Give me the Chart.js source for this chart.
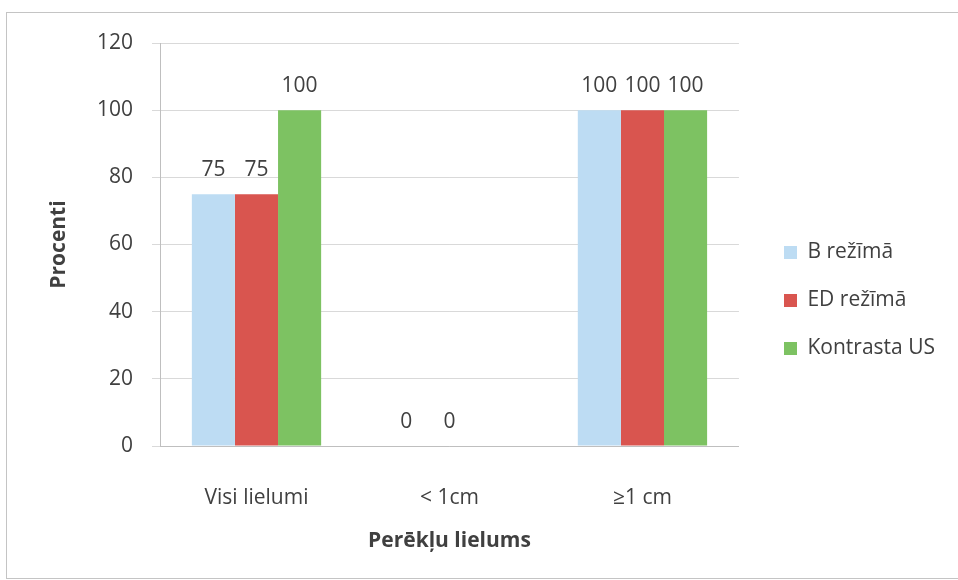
<!DOCTYPE html>
<html>
<head>
<meta charset="utf-8">
<script src="https://cdn.jsdelivr.net/npm/chart.js@4.4.0/dist/chart.umd.min.js"></script>
<style>
  html, body { margin: 0; padding: 0; background: #fff; }
  #wrap { position: relative; width: 958px; height: 580px; overflow: hidden; }
  #frame { position: absolute; left: 6px; top: 12px; width: 960px; height: 565px; border: 1px solid #c4c4c4; border-right: none; }
  #chart { position: absolute; left: 0; top: 0; }
</style>
</head>
<body>
<div id="wrap">
  <div id="frame"></div>
  <canvas id="chart" width="958" height="580"></canvas>
</div>
<script>
const categories = ["Visi lielumi", "< 1cm", "≥1 cm"];
const seriesNames = ["B režīmā", "ED režīmā", "Kontrasta US"];
const bMode = [75, 0, 100];
const edMode = [75, 0, 100];
const contrastUs = [100, null, 100];
const yTicks = [0, 20, 40, 60, 80, 100, 120];
const colors = ["#bddcf3", "#d9554f", "#7dc262"];

const textColor = "#404040";
const fontName = "Open Sans";

// legend marker: blank strip on the left then the square, so the
// legend keeps some air between it and the plot
function swatch(color) {
  const c = document.createElement("canvas");
  c.width = 31;
  c.height = 13;
  const g = c.getContext("2d");
  g.fillStyle = color;
  g.fillRect(18, 0, 13, 13);
  return c;
}

// numbers over the bars, like excel data labels
const valueLabels = {
  id: "valueLabels",
  afterDatasetsDraw(chart) {
    const ctx = chart.ctx;
    ctx.save();
    ctx.font = "21px '" + fontName + "'";
    ctx.fillStyle = textColor;
    ctx.textAlign = "center";
    ctx.textBaseline = "alphabetic";
    chart.data.datasets.forEach((ds, i) => {
      chart.getDatasetMeta(i).data.forEach((bar, j) => {
        const v = ds.data[j];
        if (v === null || v === undefined) return;
        ctx.fillText(String(v), bar.x, bar.y - 18);
      });
    });
    ctx.restore();
  }
};

function drawChart() {
  const ctx = document.getElementById("chart").getContext("2d");

  new Chart(ctx, {
    type: "bar",
    data: {
      labels: categories,
      datasets: [
        { label: seriesNames[0], data: bMode, backgroundColor: colors[0], pointStyle: swatch(colors[0]) },
        { label: seriesNames[1], data: edMode, backgroundColor: colors[1], pointStyle: swatch(colors[1]) },
        { label: seriesNames[2], data: contrastUs, backgroundColor: colors[2], pointStyle: swatch(colors[2]) },
      ],
    },
    options: {
      responsive: false,
      animation: false,
      layout: { padding: { left: 40, top: 43, right: 13, bottom: 22 } },
      datasets: {
        bar: { barPercentage: 1.0, categoryPercentage: 0.67, borderWidth: 0 },
      },
      plugins: {
        tooltip: { enabled: false },
        legend: {
          position: "right",
          labels: {
            color: textColor,
            font: { family: fontName, size: 21 },
            usePointStyle: true,
            pointStyleWidth: 31,
            boxHeight: 13,
            padding: 27,
          },
        },
      },
      scales: {
        x: {
          grid: { display: false },
          border: { display: true, color: "#bfbfbf" },
          ticks: { color: textColor, font: { family: fontName, size: 21 }, padding: 31 },
          title: {
            display: true,
            text: "Perēkļu lielums",
            color: textColor,
            font: { family: fontName, size: 21, weight: "bold" },
            padding: { top: 0, bottom: 4 },
          },
          afterFit: (s) => { s.height = 112; },
        },
        y: {
          min: 0,
          max: 120,
          afterBuildTicks: (s) => { s.ticks = yTicks.map((v) => ({ value: v })); },
          grid: { color: "#d9d9d9", tickLength: 8 },
          border: { color: "#bfbfbf" },
          ticks: { color: textColor, font: { family: fontName, size: 21 }, padding: 19 },
          title: {
            display: true,
            text: "Procenti",
            color: textColor,
            font: { family: fontName, size: 21, weight: "bold" },
            padding: { top: 6, bottom: 25 },
          },
          afterFit: (s) => { s.width = 120; },
        },
      },
    },
    plugins: [valueLabels],
  });
}

Promise.all([
  document.fonts.load("21px 'Open Sans'"),
  document.fonts.load("bold 21px 'Open Sans'"),
]).then(drawChart, drawChart);
</script>
</body>
</html>
